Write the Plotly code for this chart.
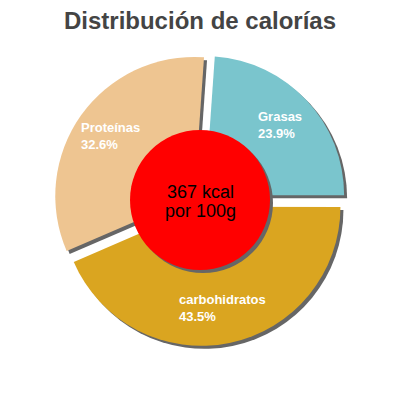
import math
import plotly.graph_objects as go

# Datos
labels = ["Grasas", "carbohidratos", "Proteínas"]
values = [23.9, 43.5, 32.6]
colors = ["#7AC5CD", "#DAA520", "#EEC591"]
kcal = 367
title = "Distribución de calorías"

rotation = 4
pull = 0.05
shadow = "#666666"
font = "Liberation Sans, Arial, sans-serif"

# the page puts the plot 8px in from the corner, so work in page pixels
W = 400
PAD = 8


def px(x):
    return (x - PAD) / W


def py(y):
    return 1 - (y - PAD) / W


cx, cy = 200, 200   # pie centre on the page
box = 292           # pie box (radius * 2 * (1 + pull))
sh = 3              # shadow offset

fig = go.Figure()

# shadow pie behind
fig.add_trace(go.Pie(
    labels=labels, values=values, sort=False, direction="clockwise",
    rotation=rotation, pull=[pull] * len(values),
    marker=dict(colors=[shadow] * len(values), line_width=0),
    textinfo="none", hoverinfo="skip",
    domain=dict(x=[px(cx - box / 2 + sh), px(cx + box / 2 + sh)],
                y=[py(cy + box / 2 + sh), py(cy - box / 2 + sh)]),
))

# main pie
fig.add_trace(go.Pie(
    labels=labels, values=values, sort=False, direction="clockwise",
    rotation=rotation, pull=[pull] * len(values),
    marker=dict(colors=colors, line_width=0),
    textinfo="none", hovertemplate="%{label}: %{value}%<extra></extra>",
    domain=dict(x=[px(cx - box / 2), px(cx + box / 2)],
                y=[py(cy + box / 2), py(cy - box / 2)]),
))

# slice labels along the middle angle of each slice
total = sum(values)
cum = 0
for lab, v in zip(labels, values):
    a = math.radians(rotation + 360 * (cum + v / 2) / total)
    cum += v
    lx = cx + 110 * math.sin(a)
    ly = cy - 110 * math.cos(a)
    fig.add_annotation(
        x=px(lx), y=py(ly), xref="paper", yref="paper",
        xanchor="center", yanchor="middle", align="left", showarrow=False,
        text=f"<b>{lab}<br>{v:.1f}%</b>", borderpad=0,
        font=dict(family=font, size=13, color="white"),
    )

# red centre circle with shadow
r = 70
fig.add_shape(type="circle", xref="paper", yref="paper",
              x0=px(cx - r + sh), x1=px(cx + r + sh),
              y0=py(cy + r + sh), y1=py(cy - r + sh),
              fillcolor=shadow, line_width=0)
fig.add_shape(type="circle", xref="paper", yref="paper",
              x0=px(cx - r), x1=px(cx + r), y0=py(cy + r), y1=py(cy - r),
              fillcolor="#FF0000", line_width=0)

fig.add_annotation(x=px(cx), y=py(192), xref="paper", yref="paper",
                   text=f"{kcal} kcal", showarrow=False,
                   font=dict(family=font, size=18, color="black"))
fig.add_annotation(x=px(cx), y=py(211), xref="paper", yref="paper",
                   text="por 100g", showarrow=False,
                   font=dict(family=font, size=18, color="black"))

fig.update_layout(
    width=400, height=400,
    margin=dict(l=0, r=0, t=0, b=0),
    showlegend=False,
    paper_bgcolor="white",
    title=dict(text=f"<b>{title}</b>", x=px(200), xanchor="center",
               y=py(21), yanchor="middle",
               font=dict(family=font, size=24, color="#444444")),
)

fig.write_html("out.html")
